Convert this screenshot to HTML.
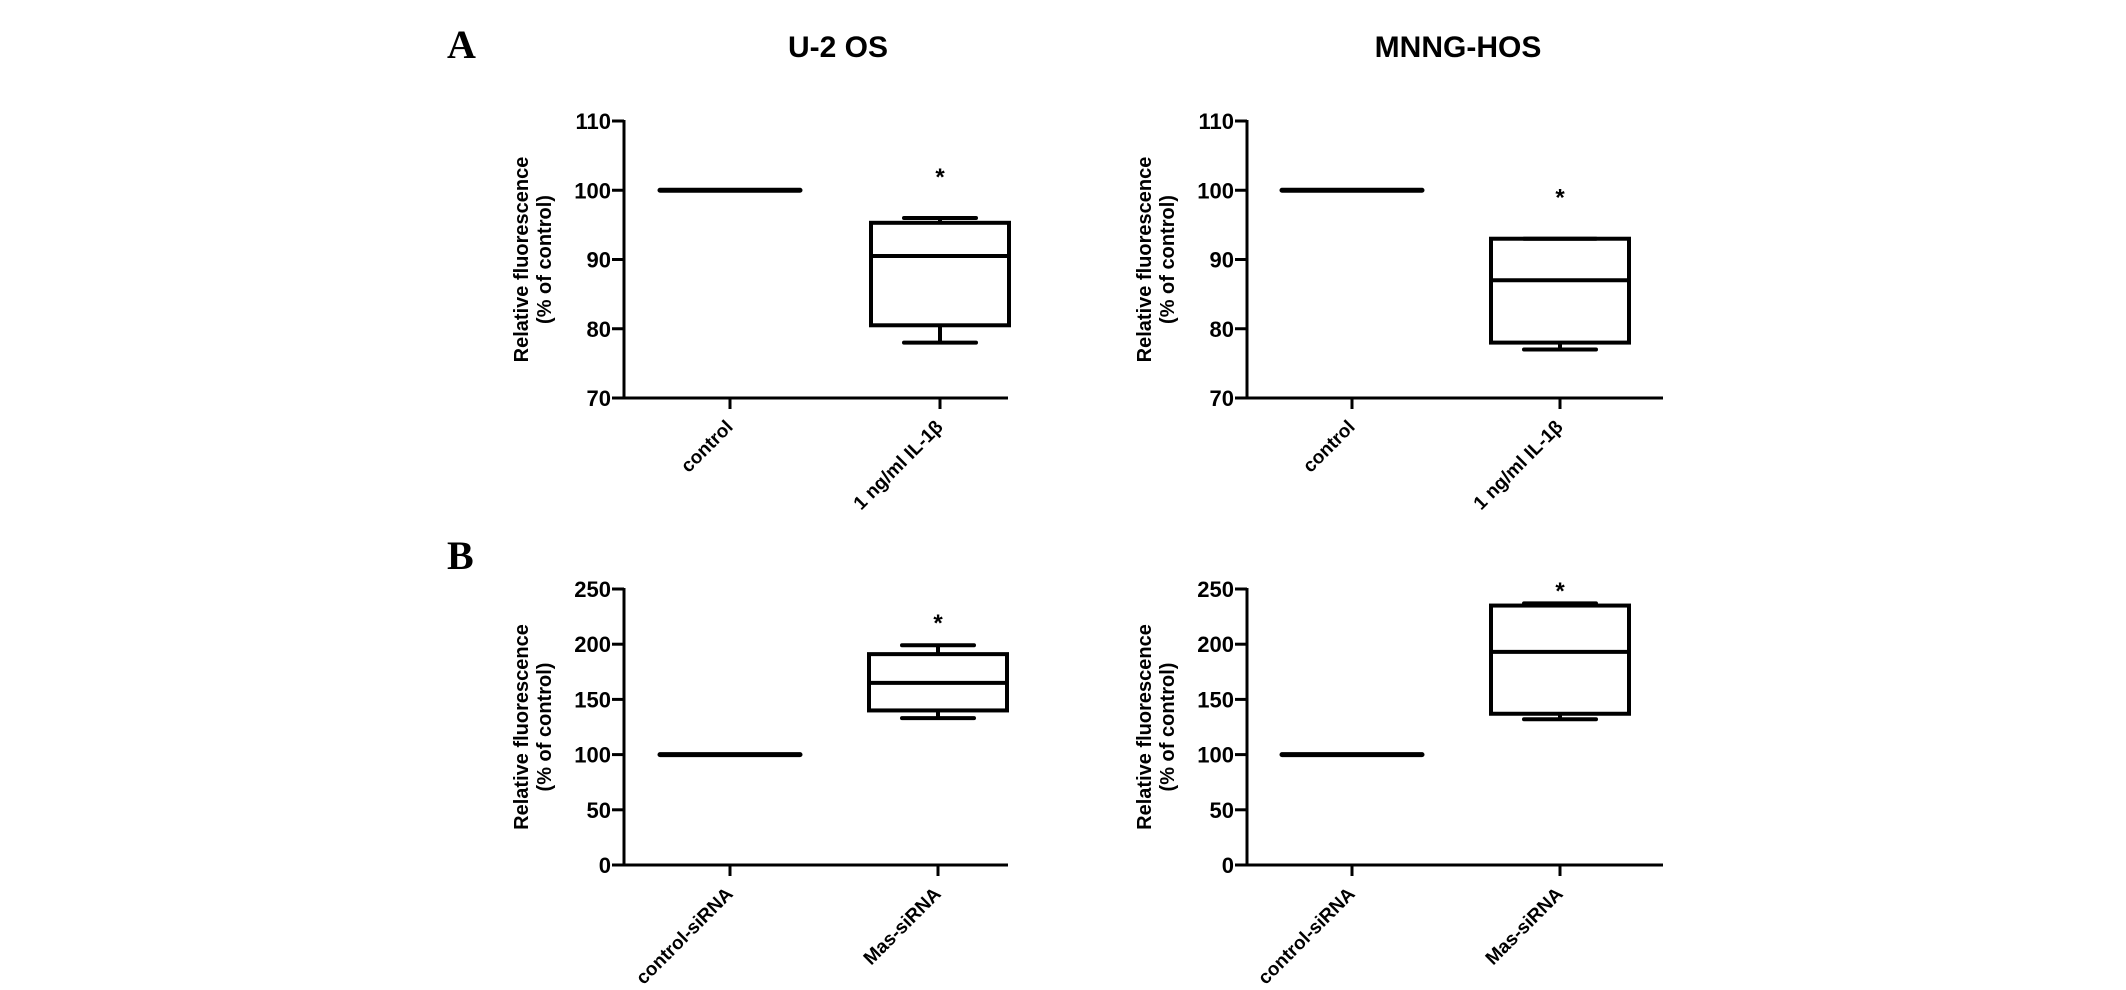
<!DOCTYPE html>
<html><head><meta charset="utf-8"><style>
html,body{margin:0;padding:0;background:#fff;}
svg{display:block;font-family:"Liberation Sans",Arial,sans-serif;}
</style></head><body>
<svg id="fig" width="2126" height="990" viewBox="0 0 2126 990">
<text x="447" y="58" font-family="Liberation Serif,serif" font-weight="bold" font-size="40">A</text>
<text x="447" y="569" font-family="Liberation Serif,serif" font-weight="bold" font-size="40">B</text>
<text x="838" y="57" text-anchor="middle" font-weight="bold" font-size="30">U-2 OS</text>
<text x="1458" y="57" text-anchor="middle" font-weight="bold" font-size="30">MNNG-HOS</text>
</svg>
<script>
const panelNames = ['a-u2os','a-mnng-hos','b-u2os','b-mnng-hos'];
const catsA = ['control','1 ng/ml IL-1β'];
const catsB = ['control-siRNA','Mas-siRNA'];
const ticksA = [70,80,90,100,110];
const ticksB = [0,50,100,150,200,250];
// box stats: [min,q1,median,q3,max] for treated group; control is a flat line at value
const controlVals = [100,100,100,100];
const boxA1 = [78,80.5,90.5,95.3,96];
const boxA2 = [77,78,87,93,93];
const boxB1 = [133,140,165,191,199];
const boxB2 = [132,137,193,235,237];
const starVals = [102.5,99.5,223,252];

const NS='http://www.w3.org/2000/svg';
const svg=document.getElementById('fig');
function mk(tag,attrs,parent){const e=document.createElementNS(NS,tag);for(const k in attrs)e.setAttribute(k,attrs[k]);(parent||svg).appendChild(e);return e;}

const layouts=[
 {ax:624,top:121,bot:398,xend:1008,t0:730,t1:940,cats:catsA,ticks:ticksA,box:boxA1},
 {ax:1247,top:121,bot:398,xend:1663,t0:1352,t1:1560,cats:catsA,ticks:ticksA,box:boxA2},
 {ax:624,top:589,bot:865,xend:1008,t0:730,t1:938,cats:catsB,ticks:ticksB,box:boxB1},
 {ax:1247,top:589,bot:865,xend:1663,t0:1352,t1:1560,cats:catsB,ticks:ticksB,box:boxB2}
];

layouts.forEach((L,i)=>{
  const g=mk('g',{});
  
  
  const lo=L.ticks[0],hi=L.ticks[L.ticks.length-1];
  const y=v=>L.bot-(v-lo)/(hi-lo)*(L.bot-L.top);
  const yaxis=mk('line',{x1:L.ax,y1:L.top-1,x2:L.ax,y2:L.bot,stroke:'#000','stroke-width':3},g);
  
  
  const xaxis=mk('line',{x1:L.ax-1,y1:L.bot,x2:L.xend,y2:L.bot,stroke:'#000','stroke-width':3},g);
  
  
  L.ticks.forEach(t=>{
    mk('line',{x1:L.ax-12,y1:y(t),x2:L.ax,y2:y(t),stroke:'#000','stroke-width':3},g);
    const tx=mk('text',{x:L.ax-13,y:y(t)+8,'text-anchor':'end','font-size':22,'font-weight':'bold'},g);
    tx.textContent=t;
    
    
  });
  [L.t0,L.t1].forEach((tx,j)=>{
    mk('line',{x1:tx,y1:L.bot,x2:tx,y2:L.bot+11,stroke:'#000','stroke-width':3},g);
    const lab=mk('text',{x:tx+4,y:L.bot+30,'text-anchor':'end','font-size':19,'font-weight':'bold',transform:`rotate(-45 ${tx+4} ${L.bot+30})`},g);
    lab.textContent=L.cats[j];
    
    
  });
  const cy=(L.top+L.bot)/2;
  const t1=mk('text',{x:L.ax-96,y:cy,'text-anchor':'middle','font-size':20,'font-weight':'bold',transform:`rotate(-90 ${L.ax-96} ${cy})`},g);
  t1.textContent='Relative fluorescence';
  
  
  const t2=mk('text',{x:L.ax-73,y:cy,'text-anchor':'middle','font-size':20,'font-weight':'bold',transform:`rotate(-90 ${L.ax-73} ${cy})`},g);
  t2.textContent='(% of control)';
  
  
  // control line
  const cl=mk('line',{x1:L.t0-70,y1:y(controlVals[i]),x2:L.t0+70,y2:y(controlVals[i]),stroke:'#000','stroke-width':5,'stroke-linecap':'round'},g);
  
  
  // box
  const b=L.box, cx=L.t1, hw=69, cw=36;
  const bg=mk('g',{stroke:'#000','stroke-width':4,fill:'none'},g);
  
  
  mk('line',{x1:cx,y1:y(b[0]),x2:cx,y2:y(b[1])},bg);
  mk('line',{x1:cx,y1:y(b[3]),x2:cx,y2:y(b[4])},bg);
  mk('line',{x1:cx-cw,y1:y(b[0]),x2:cx+cw,y2:y(b[0]),'stroke-linecap':'round'},bg);
  mk('line',{x1:cx-cw,y1:y(b[4]),x2:cx+cw,y2:y(b[4]),'stroke-linecap':'round'},bg);
  mk('rect',{x:cx-hw,y:y(b[3]),width:hw*2,height:y(b[1])-y(b[3])},bg);
  mk('line',{x1:cx-hw,y1:y(b[2]),x2:cx+hw,y2:y(b[2])},bg);
  const st=mk('text',{x:cx,y:y(starVals[i])+12,'text-anchor':'middle','font-size':24,'font-weight':'bold'},g);
  st.textContent='*';
  
  
});
</script>
</body></html>
